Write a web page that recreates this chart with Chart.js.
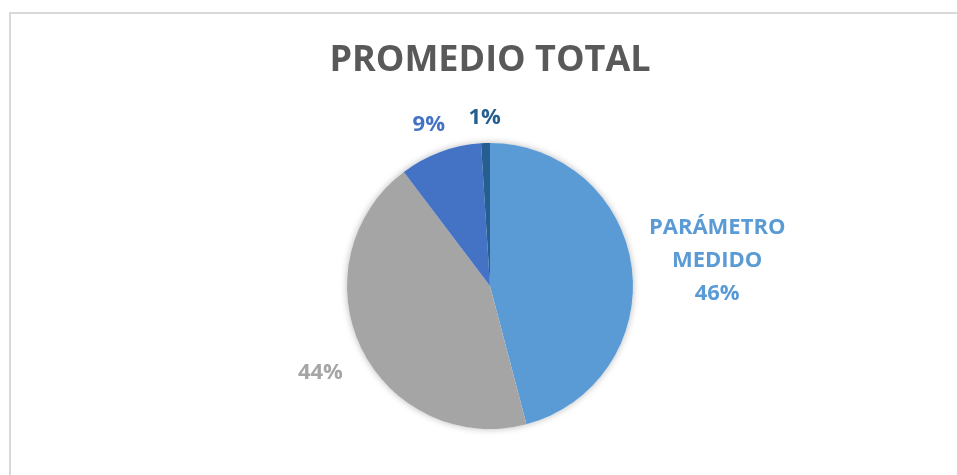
<!DOCTYPE html>
<html lang="es">
<head>
    <meta charset="UTF-8">
    <title>Promedio total</title>
    <script src="https://cdn.jsdelivr.net/npm/chart.js"></script>
    <style>
        body { margin: 0; background: #fff; }
        .wrap { position: relative; width: 957px; height: 475px; }
        .frame {
            position: absolute; left: 9px; top: 12px; right: 0; bottom: 0;
            border-top: 2px solid #d9d9d9; border-left: 2px solid #d9d9d9;
            pointer-events: none;
        }
    </style>
</head>
<body>
<div class="wrap">
    <canvas id="pieChart" width="957" height="475"></canvas>
    <div class="frame"></div>
</div>

<script>
    // datos del gráfico
    const categories = ['PARÁMETRO MEDIDO', '', '', ''];
    const values = [45.9, 43.8, 9.3, 1.0];
    const colors = ['#5B9BD5', '#A5A5A5', '#4472C4', '#255E91'];

    const labelFont = 'bold 22px "Open Sans"';
    const labelLine = 33;

    // sombra suave bajo la torta
    const pieShadow = {
        id: 'pieShadow',
        beforeDatasetsDraw(chart) {
            const arc = chart.getDatasetMeta(0).data[0];
            if (!arc) return;
            const ctx = chart.ctx;
            ctx.save();
            ctx.shadowColor = 'rgba(0,0,0,0.28)';
            ctx.shadowBlur = 7;
            ctx.fillStyle = '#fff';
            ctx.beginPath();
            ctx.arc(arc.x, arc.y, arc.outerRadius, 0, Math.PI * 2);
            ctx.fill();
            ctx.restore();
        }
    };

    // etiquetas fuera del borde
    const outsideLabels = {
        id: 'outsideLabels',
        afterDatasetsDraw(chart) {
            const ctx = chart.ctx;
            const meta = chart.getDatasetMeta(0);
            const total = values.reduce((a, b) => a + b, 0);
            ctx.save();
            ctx.font = labelFont;
            ctx.textAlign = 'center';
            ctx.textBaseline = 'middle';
            meta.data.forEach((arc, i) => {
                const pct = Math.round(values[i] / total * 100) + '%';
                const lines = categories[i] ? categories[i].split(' ').concat(pct) : [pct];
                const w = Math.max(...lines.map(t => ctx.measureText(t).width));
                const h = lines.length * labelLine;
                const mid = (arc.startAngle + arc.endAngle) / 2;
                const dx = Math.cos(mid), dy = Math.sin(mid);
                const ext = Math.abs(dx) * w / 2 + Math.abs(dy) * h / 2;
                // un poco más lejos abajo, como en el original
                const dist = arc.outerRadius + 12 + ext + Math.max(dy, 0) * 14;
                const cx = arc.x + dx * dist;
                const cy = arc.y + dy * dist + 4;
                ctx.fillStyle = colors[i];
                lines.forEach((t, k) => {
                    ctx.fillText(t, cx, cy - h / 2 + labelLine * (k + 0.5));
                });
            });
            ctx.restore();
        }
    };

    new Chart(document.getElementById('pieChart'), {
        type: 'pie',
        data: {
            labels: categories,
            datasets: [{
                data: values,
                backgroundColor: colors,
                borderWidth: 0
            }]
        },
        options: {
            responsive: false,
            animation: false,
            layout: { padding: { top: 0, bottom: 46, left: 200, right: 177 } },
            plugins: {
                legend: { display: false },
                tooltip: { enabled: false },
                title: {
                    display: true,
                    text: 'PROMEDIO TOTAL',
                    color: '#595959',
                    font: { family: 'Open Sans', size: 36, weight: 'bold' },
                    padding: { top: 39, bottom: 60.8 }
                }
            }
        },
        plugins: [pieShadow, outsideLabels]
    });
</script>
</body>
</html>
